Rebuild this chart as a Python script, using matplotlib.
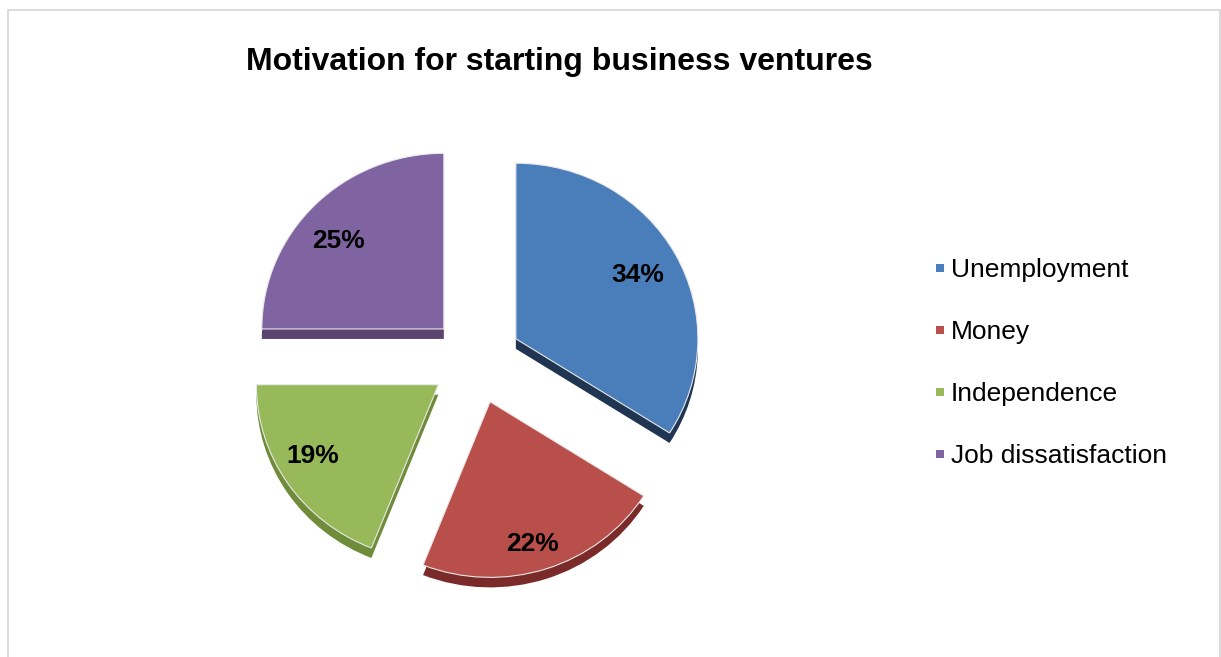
import matplotlib.pyplot as plt
from matplotlib.lines import Line2D
from matplotlib.patches import Rectangle

# Survey shares for each motivation
categories = ['Unemployment', 'Money', 'Independence', 'Job dissatisfaction']
shares = [34, 22, 19, 25]

face_colors = ['#4a7ebb', '#b94f4b', '#98b95a', '#8064a1']
side_colors = ['#1f3552', '#7a2a28', '#6f8c3a', '#5b4570']

# small pixel nudges for the percentage labels (x, y-up)
label_nudge = [(-2, -2), (-1, -12), (-8, 6), (-5, -9)]

plt.rcParams['font.family'] = ['Liberation Sans', 'DejaVu Sans']

W, H = 1221, 657
fig = plt.figure(figsize=(W / 100, H / 100), dpi=100)
ax = fig.add_axes([0, 0, 1, 1])

# y is squashed a little so the pie reads as slightly tilted
squash = 0.965
cx, cy = 476, (H - 360) / squash
radius = 182
gap = 45.5
depth = 10 / squash

# Dark copy underneath, shifted down, acts as the slice thickness
ax.pie(shares, explode=[gap] * 4, colors=side_colors, radius=radius,
       center=(cx, cy - depth), startangle=90, counterclock=False,
       wedgeprops=dict(linewidth=0))

wedges, _, pct_texts = ax.pie(
    shares, explode=[gap] * 4, colors=face_colors, radius=radius,
    center=(cx, cy), startangle=90, counterclock=False,
    autopct='%1.0f%%', pctdistance=0.78,
    wedgeprops=dict(linewidth=0.8, edgecolor='#e8e8e8'))

for t, (dx, dy) in zip(pct_texts, label_nudge):
    x, y = t.get_position()
    t.set_position((x + dx, y + dy / squash))
    t.set_fontsize(19)
    t.set_fontweight('bold')
    t.set_color('black')

ax.set_xlim(0, W)
ax.set_ylim(0, H / squash)
ax.set_aspect('auto')
ax.axis('off')

fig.text(559 / W, 1 - 62 / H, 'Motivation for starting business ventures',
         fontsize=23, fontweight='bold', ha='center', va='center')

handles = [Line2D([], [], linestyle='none', marker='s', markersize=5.5,
                  markerfacecolor=c, markeredgewidth=0) for c in face_colors]
fig.legend(handles, categories, loc='center left',
           bbox_to_anchor=(935 / W, 1 - 363 / H), bbox_transform=fig.transFigure,
           frameon=False, fontsize=19, handlelength=0.4, handletextpad=0.2,
           labelspacing=1.44, borderpad=0, borderaxespad=0)

# Light outline around the chart area
fig.patches.append(Rectangle((8 / W, -0.05), 1211.5 / W, 1.05 - 10.5 / H,
                             transform=fig.transFigure, fill=False,
                             edgecolor='#d9d9d9', linewidth=1.3))

fig.savefig('out.png', dpi=100)
